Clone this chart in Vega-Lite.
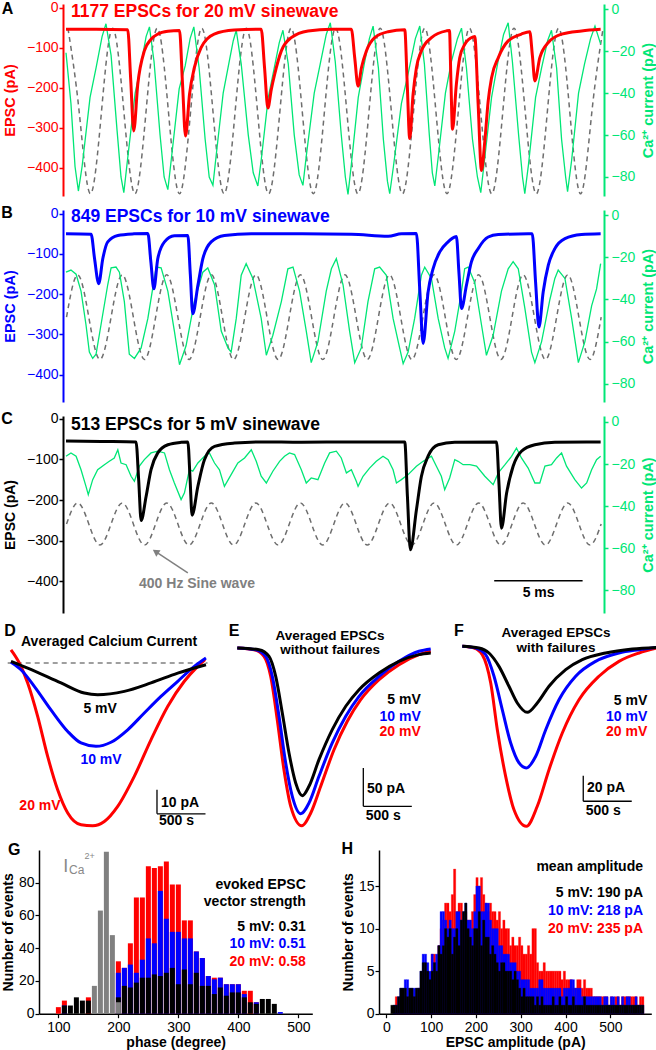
{
"$schema":"https://vega.github.io/schema/vega-lite/v6.json",
"padding":0,
"background":"white",
"spacing":8,
"config":{"view":{"stroke":null},"font":"Liberation Sans","axis":{"grid":false,"labelFlush":false,"labelOverlap":false,"labelFontSize":14,"titleFontSize":14,"titleFontWeight":"bold","labelColor":"#000000","tickColor":"#000000","domainColor":"#000000","titleColor":"#000000","tickSize":4,"tickWidth":1.2,"domainWidth":1.5}},
"datasets":{
"aS":[{"t":0.28,"v":-9},{"t":0.91,"v":-48.5},{"t":1.54,"v":-88},{"t":2.18,"v":-48.5},{"t":2.81,"v":-9},{"t":3.44,"v":-48.5},{"t":4.07,"v":-88},{"t":4.7,"v":-48.5},{"t":5.33,"v":-9},{"t":5.96,"v":-48.5},{"t":6.59,"v":-88},{"t":7.22,"v":-48.5},{"t":7.85,"v":-9},{"t":8.48,"v":-48.5},{"t":9.11,"v":-88},{"t":9.74,"v":-48.5},{"t":10.37,"v":-9},{"t":11.0,"v":-48.5},{"t":11.63,"v":-88},{"t":12.27,"v":-48.5},{"t":12.9,"v":-9},{"t":13.53,"v":-48.5},{"t":14.16,"v":-88},{"t":14.79,"v":-48.5},{"t":15.42,"v":-9},{"t":16.05,"v":-48.5},{"t":16.68,"v":-88},{"t":17.31,"v":-48.5},{"t":17.94,"v":-9},{"t":18.57,"v":-48.5},{"t":19.2,"v":-88},{"t":19.83,"v":-48.5},{"t":20.46,"v":-9},{"t":21.09,"v":-48.5},{"t":21.72,"v":-88},{"t":22.36,"v":-48.5},{"t":22.99,"v":-9},{"t":23.62,"v":-48.5},{"t":24.25,"v":-88},{"t":24.88,"v":-48.5},{"t":25.51,"v":-9},{"t":26.14,"v":-48.5},{"t":26.77,"v":-88},{"t":27.4,"v":-48.5},{"t":28.03,"v":-9},{"t":28.66,"v":-48.5},{"t":29.29,"v":-88},{"t":29.92,"v":-48.5},{"t":30.55,"v":-9}],
"aG":[{"t":0.17,"v":-20.7},{"t":0.45,"v":-45},{"t":0.68,"v":-75},{"t":0.87,"v":-86.7},{"t":1.08,"v":-75},{"t":1.53,"v":-42},{"t":1.87,"v":-28},{"t":2.21,"v":-13},{"t":2.43,"v":-6.9},{"t":2.72,"v":-22},{"t":3.06,"v":-58},{"t":3.28,"v":-80},{"t":3.44,"v":-87.5},{"t":3.62,"v":-74},{"t":4.08,"v":-40},{"t":4.42,"v":-26},{"t":4.7,"v":-13},{"t":4.89,"v":-8.4},{"t":5.15,"v":-25},{"t":5.49,"v":-60},{"t":5.72,"v":-80},{"t":5.93,"v":-86},{"t":6.12,"v":-72},{"t":6.57,"v":-38},{"t":6.91,"v":-27},{"t":7.19,"v":-14},{"t":7.4,"v":-8.4},{"t":7.7,"v":-28},{"t":8.04,"v":-62},{"t":8.27,"v":-80},{"t":8.48,"v":-84},{"t":8.66,"v":-70},{"t":9.06,"v":-40},{"t":9.4,"v":-25},{"t":9.63,"v":-15},{"t":9.8,"v":-10},{"t":10.08,"v":-26},{"t":10.48,"v":-60},{"t":10.76,"v":-78},{"t":11.02,"v":-84.3},{"t":11.21,"v":-72},{"t":11.61,"v":-42},{"t":11.95,"v":-28},{"t":12.23,"v":-16},{"t":12.44,"v":-10},{"t":12.74,"v":-26},{"t":13.08,"v":-60},{"t":13.36,"v":-79},{"t":13.57,"v":-84},{"t":13.76,"v":-70},{"t":14.21,"v":-40},{"t":14.55,"v":-26},{"t":14.89,"v":-12},{"t":15.12,"v":-6.4},{"t":15.4,"v":-25},{"t":15.74,"v":-60},{"t":15.97,"v":-80},{"t":16.12,"v":-88.3},{"t":16.31,"v":-74},{"t":16.7,"v":-42},{"t":17.04,"v":-26},{"t":17.33,"v":-14},{"t":17.54,"v":-8},{"t":17.84,"v":-28},{"t":18.12,"v":-62},{"t":18.35,"v":-82},{"t":18.48,"v":-88},{"t":18.69,"v":-75},{"t":19.14,"v":-45},{"t":19.54,"v":-30},{"t":19.93,"v":-14},{"t":20.18,"v":-8},{"t":20.44,"v":-26},{"t":20.72,"v":-60},{"t":20.89,"v":-78},{"t":21.03,"v":-84.3},{"t":21.23,"v":-70},{"t":21.63,"v":-40},{"t":21.97,"v":-25},{"t":22.31,"v":-14},{"t":22.54,"v":-9},{"t":22.82,"v":-28},{"t":23.16,"v":-62},{"t":23.44,"v":-80},{"t":23.63,"v":-87.5},{"t":23.84,"v":-72},{"t":24.24,"v":-42},{"t":24.58,"v":-26},{"t":24.92,"v":-12},{"t":25.18,"v":-6.4},{"t":25.42,"v":-25},{"t":25.77,"v":-60},{"t":25.99,"v":-80},{"t":26.12,"v":-88},{"t":26.33,"v":-74},{"t":26.73,"v":-42},{"t":27.07,"v":-28},{"t":27.41,"v":-15},{"t":27.63,"v":-10},{"t":27.92,"v":-28},{"t":28.2,"v":-62},{"t":28.43,"v":-80},{"t":28.54,"v":-87},{"t":28.77,"v":-72},{"t":29.16,"v":-40},{"t":29.5,"v":-26},{"t":29.84,"v":-14},{"t":30.09,"v":-8},{"t":30.41,"v":-16.6}],
"aE":[{"t":0.17,"v":-54},{"t":1.87,"v":-54},{"t":3.66,"v":-55},{"t":3.83,"v":-180},{"t":4.0,"v":-308},{"t":4.23,"v":-191},{"t":4.6,"v":-108},{"t":4.98,"v":-79},{"t":5.36,"v":-66},{"t":5.93,"v":-59},{"t":6.59,"v":-57},{"t":6.76,"v":-190},{"t":6.93,"v":-321},{"t":7.16,"v":-215},{"t":7.43,"v":-150},{"t":7.81,"v":-100},{"t":8.55,"v":-66},{"t":9.68,"v":-56},{"t":11.21,"v":-54},{"t":11.4,"v":-150},{"t":11.59,"v":-251},{"t":11.78,"v":-205},{"t":11.97,"v":-167},{"t":12.35,"v":-108},{"t":12.91,"v":-75},{"t":13.86,"v":-58},{"t":15.18,"v":-54},{"t":16.31,"v":-54},{"t":16.5,"v":-125},{"t":16.69,"v":-196},{"t":16.88,"v":-150},{"t":17.16,"v":-108},{"t":17.63,"v":-75},{"t":18.39,"v":-60},{"t":19.33,"v":-55},{"t":19.47,"v":-190},{"t":19.61,"v":-327},{"t":19.8,"v":-217},{"t":19.99,"v":-150},{"t":20.27,"v":-108},{"t":20.84,"v":-75},{"t":21.69,"v":-58},{"t":21.86,"v":-57},{"t":21.94,"v":-180},{"t":22.03,"v":-304},{"t":22.25,"v":-191},{"t":22.44,"v":-125},{"t":22.72,"v":-92},{"t":23.2,"v":-73},{"t":23.29,"v":-72},{"t":23.48,"v":-240},{"t":23.67,"v":-407},{"t":23.86,"v":-333},{"t":24.05,"v":-233},{"t":24.24,"v":-175},{"t":24.62,"v":-125},{"t":25.18,"v":-83},{"t":25.93,"v":-66},{"t":26.4,"v":-60},{"t":26.55,"v":-120},{"t":26.69,"v":-183},{"t":26.97,"v":-125},{"t":27.45,"v":-87},{"t":28.2,"v":-66},{"t":29.33,"v":-58},{"t":30.41,"v":-54}],
"bS":[{"t":0.2,"v":-48.4},{"t":0.83,"v":-28.3},{"t":1.46,"v":-48.4},{"t":2.09,"v":-68.5},{"t":2.72,"v":-48.4},{"t":3.35,"v":-28.3},{"t":3.98,"v":-48.4},{"t":4.61,"v":-68.5},{"t":5.24,"v":-48.4},{"t":5.87,"v":-28.3},{"t":6.5,"v":-48.4},{"t":7.13,"v":-68.5},{"t":7.76,"v":-48.4},{"t":8.39,"v":-28.3},{"t":9.02,"v":-48.4},{"t":9.65,"v":-68.5},{"t":10.28,"v":-48.4},{"t":10.91,"v":-28.3},{"t":11.54,"v":-48.4},{"t":12.17,"v":-68.5},{"t":12.8,"v":-48.4},{"t":13.43,"v":-28.3},{"t":14.06,"v":-48.4},{"t":14.69,"v":-68.5},{"t":15.32,"v":-48.4},{"t":15.95,"v":-28.3},{"t":16.58,"v":-48.4},{"t":17.21,"v":-68.5},{"t":17.84,"v":-48.4},{"t":18.47,"v":-28.3},{"t":19.1,"v":-48.4},{"t":19.73,"v":-68.5},{"t":20.36,"v":-48.4},{"t":20.99,"v":-28.3},{"t":21.62,"v":-48.4},{"t":22.25,"v":-68.5},{"t":22.88,"v":-48.4},{"t":23.51,"v":-28.3},{"t":24.14,"v":-48.4},{"t":24.77,"v":-68.5},{"t":25.4,"v":-48.4},{"t":26.03,"v":-28.3},{"t":26.66,"v":-48.4},{"t":27.29,"v":-68.5},{"t":27.92,"v":-48.4},{"t":28.55,"v":-28.3},{"t":29.18,"v":-48.4},{"t":29.81,"v":-68.5},{"t":30.44,"v":-48.4}],
"bG":[{"t":0.17,"v":-27},{"t":0.45,"v":-26},{"t":0.74,"v":-28},{"t":1.02,"v":-36},{"t":1.3,"v":-52},{"t":1.49,"v":-65},{"t":1.68,"v":-68},{"t":1.87,"v":-66},{"t":2.15,"v":-52},{"t":2.53,"v":-33},{"t":2.72,"v":-25},{"t":3.0,"v":-24.6},{"t":3.19,"v":-27},{"t":3.47,"v":-41},{"t":3.75,"v":-66},{"t":4.04,"v":-68},{"t":4.42,"v":-63},{"t":4.8,"v":-49},{"t":5.27,"v":-24.6},{"t":5.55,"v":-25},{"t":5.93,"v":-36},{"t":6.3,"v":-55},{"t":6.59,"v":-71},{"t":6.96,"v":-62},{"t":7.43,"v":-41},{"t":7.91,"v":-27},{"t":8.19,"v":-25},{"t":8.57,"v":-33},{"t":8.95,"v":-55},{"t":9.33,"v":-63},{"t":9.51,"v":-65},{"t":9.8,"v":-49},{"t":10.08,"v":-28.5},{"t":10.36,"v":-23},{"t":10.74,"v":-30},{"t":11.21,"v":-49},{"t":11.5,"v":-66.5},{"t":11.87,"v":-57},{"t":12.35,"v":-41},{"t":12.72,"v":-25.4},{"t":13.01,"v":-24.6},{"t":13.38,"v":-36},{"t":13.76,"v":-55},{"t":14.04,"v":-70},{"t":14.42,"v":-60},{"t":14.89,"v":-36},{"t":15.18,"v":-25.4},{"t":15.46,"v":-20.6},{"t":15.84,"v":-33},{"t":16.21,"v":-55},{"t":16.5,"v":-70},{"t":16.87,"v":-63},{"t":17.25,"v":-41},{"t":17.63,"v":-25.4},{"t":17.91,"v":-24.6},{"t":18.29,"v":-28.5},{"t":18.67,"v":-49},{"t":19.04,"v":-63},{"t":19.24,"v":-70.5},{"t":19.52,"v":-65},{"t":19.89,"v":-49},{"t":20.27,"v":-28.5},{"t":20.46,"v":-24.6},{"t":20.84,"v":-30},{"t":21.22,"v":-49},{"t":21.59,"v":-63},{"t":21.78,"v":-68},{"t":22.16,"v":-55},{"t":22.54,"v":-36},{"t":22.72,"v":-25.4},{"t":22.92,"v":-24.6},{"t":23.29,"v":-32},{"t":23.67,"v":-52},{"t":23.95,"v":-66.5},{"t":24.33,"v":-57},{"t":24.8,"v":-36},{"t":25.18,"v":-25.4},{"t":25.46,"v":-22},{"t":25.75,"v":-25.4},{"t":26.12,"v":-44},{"t":26.5,"v":-65},{"t":26.69,"v":-70},{"t":27.07,"v":-60},{"t":27.54,"v":-40},{"t":27.82,"v":-30},{"t":28.01,"v":-26},{"t":28.39,"v":-30},{"t":28.77,"v":-49},{"t":29.15,"v":-70},{"t":29.52,"v":-60},{"t":29.9,"v":-43},{"t":30.18,"v":-35},{"t":30.41,"v":-23}],
"bE":[{"t":0.17,"v":-50},{"t":1.59,"v":-51},{"t":1.78,"v":-110},{"t":2.02,"v":-174},{"t":2.25,"v":-112},{"t":2.53,"v":-70},{"t":3.1,"v":-54},{"t":4.02,"v":-50},{"t":4.8,"v":-49},{"t":4.97,"v":-120},{"t":5.14,"v":-187},{"t":5.36,"v":-112},{"t":5.74,"v":-70},{"t":6.3,"v":-55},{"t":7.06,"v":-54},{"t":7.2,"v":-150},{"t":7.34,"v":-249},{"t":7.63,"v":-178},{"t":7.91,"v":-112},{"t":8.38,"v":-70},{"t":9.13,"v":-54},{"t":10.65,"v":-50},{"t":13.48,"v":-50},{"t":16.31,"v":-51},{"t":18.39,"v":-56},{"t":19.14,"v":-50},{"t":19.99,"v":-49},{"t":20.18,"v":-190},{"t":20.37,"v":-323},{"t":20.65,"v":-195},{"t":20.93,"v":-137},{"t":21.31,"v":-95},{"t":21.78,"v":-70},{"t":22.16,"v":-58},{"t":22.25,"v":-57},{"t":22.4,"v":-150},{"t":22.54,"v":-236},{"t":22.82,"v":-178},{"t":23.1,"v":-120},{"t":23.48,"v":-87},{"t":24.05,"v":-58},{"t":24.62,"v":-52},{"t":26.31,"v":-50},{"t":26.54,"v":-50},{"t":26.73,"v":-170},{"t":26.92,"v":-282},{"t":27.16,"v":-195},{"t":27.45,"v":-128},{"t":27.82,"v":-87},{"t":28.39,"v":-62},{"t":29.33,"v":-52},{"t":30.41,"v":-50}],
"cS":[{"t":0.2,"v":-48.5},{"t":0.83,"v":-38.5},{"t":1.46,"v":-48.5},{"t":2.09,"v":-58.5},{"t":2.72,"v":-48.5},{"t":3.35,"v":-38.5},{"t":3.98,"v":-48.5},{"t":4.61,"v":-58.5},{"t":5.24,"v":-48.5},{"t":5.87,"v":-38.5},{"t":6.5,"v":-48.5},{"t":7.13,"v":-58.5},{"t":7.76,"v":-48.5},{"t":8.39,"v":-38.5},{"t":9.02,"v":-48.5},{"t":9.65,"v":-58.5},{"t":10.28,"v":-48.5},{"t":10.91,"v":-38.5},{"t":11.54,"v":-48.5},{"t":12.17,"v":-58.5},{"t":12.8,"v":-48.5},{"t":13.43,"v":-38.5},{"t":14.06,"v":-48.5},{"t":14.69,"v":-58.5},{"t":15.32,"v":-48.5},{"t":15.95,"v":-38.5},{"t":16.58,"v":-48.5},{"t":17.21,"v":-58.5},{"t":17.84,"v":-48.5},{"t":18.47,"v":-38.5},{"t":19.1,"v":-48.5},{"t":19.73,"v":-58.5},{"t":20.36,"v":-48.5},{"t":20.99,"v":-38.5},{"t":21.62,"v":-48.5},{"t":22.25,"v":-58.5},{"t":22.88,"v":-48.5},{"t":23.51,"v":-38.5},{"t":24.14,"v":-48.5},{"t":24.77,"v":-58.5},{"t":25.4,"v":-48.5},{"t":26.03,"v":-38.5},{"t":26.66,"v":-48.5},{"t":27.29,"v":-58.5},{"t":27.92,"v":-48.5},{"t":28.55,"v":-38.5},{"t":29.18,"v":-48.5},{"t":29.81,"v":-58.5},{"t":30.44,"v":-48.5}],
"cG":[{"t":0.17,"v":-16.3},{"t":0.45,"v":-14.7},{"t":0.74,"v":-16.3},{"t":1.02,"v":-22.7},{"t":1.3,"v":-30.6},{"t":1.43,"v":-34.5},{"t":1.68,"v":-27.4},{"t":1.96,"v":-22.7},{"t":2.34,"v":-20.3},{"t":2.62,"v":-18.7},{"t":2.9,"v":-17.1},{"t":3.1,"v":-13.2},{"t":3.28,"v":-19.5},{"t":3.57,"v":-20.3},{"t":3.85,"v":-25.8},{"t":4.04,"v":-28.2},{"t":4.32,"v":-21},{"t":4.6,"v":-17.9},{"t":4.98,"v":-14.7},{"t":5.36,"v":-13.9},{"t":5.74,"v":-14.7},{"t":6.02,"v":-22.7},{"t":6.3,"v":-29},{"t":6.68,"v":-36.9},{"t":6.87,"v":-33.7},{"t":7.15,"v":-22.7},{"t":7.34,"v":-23.4},{"t":7.63,"v":-19.5},{"t":8.0,"v":-16.3},{"t":8.28,"v":-14.7},{"t":8.57,"v":-19.5},{"t":8.85,"v":-22.7},{"t":9.13,"v":-30.6},{"t":9.51,"v":-25},{"t":9.89,"v":-19.5},{"t":10.27,"v":-17.1},{"t":10.65,"v":-13.2},{"t":10.93,"v":-18.7},{"t":11.21,"v":-25.8},{"t":11.5,"v":-29},{"t":11.87,"v":-23.4},{"t":12.25,"v":-18.7},{"t":12.53,"v":-16.3},{"t":12.81,"v":-14.7},{"t":13.1,"v":-15.5},{"t":13.48,"v":-22.7},{"t":13.76,"v":-29},{"t":14.04,"v":-26.6},{"t":14.42,"v":-27.4},{"t":14.8,"v":-19.5},{"t":15.08,"v":-14.7},{"t":15.46,"v":-13.9},{"t":15.74,"v":-17.1},{"t":16.03,"v":-24.2},{"t":16.31,"v":-22.7},{"t":16.59,"v":-28.2},{"t":16.69,"v":-30.6},{"t":16.97,"v":-25.8},{"t":17.34,"v":-21.9},{"t":17.72,"v":-18.7},{"t":18.1,"v":-16.3},{"t":18.39,"v":-17.9},{"t":18.67,"v":-22.7},{"t":18.86,"v":-29},{"t":19.14,"v":-27.4},{"t":19.52,"v":-25},{"t":19.99,"v":-21},{"t":20.37,"v":-18.7},{"t":20.84,"v":-16.3},{"t":21.12,"v":-21},{"t":21.4,"v":-25.8},{"t":21.59,"v":-32.2},{"t":21.87,"v":-26.6},{"t":22.16,"v":-17.9},{"t":22.35,"v":-18.7},{"t":22.63,"v":-20.3},{"t":23.01,"v":-20.3},{"t":23.39,"v":-21},{"t":23.86,"v":-25.8},{"t":24.33,"v":-29.8},{"t":24.62,"v":-24.2},{"t":25.0,"v":-20.3},{"t":25.37,"v":-16.3},{"t":25.65,"v":-12.4},{"t":25.93,"v":-17.1},{"t":26.31,"v":-21.9},{"t":26.69,"v":-29},{"t":26.97,"v":-29},{"t":27.26,"v":-21},{"t":27.63,"v":-20.3},{"t":27.92,"v":-17.1},{"t":28.2,"v":-14.7},{"t":28.48,"v":-21},{"t":28.95,"v":-27.4},{"t":29.33,"v":-31.4},{"t":29.62,"v":-29},{"t":29.9,"v":-22.7},{"t":30.18,"v":-17.9},{"t":30.41,"v":-16.3}],
"cE":[{"t":0.17,"v":-55},{"t":2.15,"v":-56},{"t":4.13,"v":-57},{"t":4.28,"v":-150},{"t":4.42,"v":-250},{"t":4.7,"v":-191},{"t":4.98,"v":-125},{"t":5.36,"v":-84},{"t":5.93,"v":-64},{"t":6.68,"v":-58},{"t":7.06,"v":-57},{"t":7.19,"v":-150},{"t":7.3,"v":-237},{"t":7.63,"v":-166},{"t":8.0,"v":-101},{"t":8.57,"v":-68},{"t":9.7,"v":-60},{"t":11.21,"v":-57},{"t":13.48,"v":-58},{"t":16.31,"v":-57},{"t":19.33,"v":-57},{"t":19.48,"v":-190},{"t":19.65,"v":-322},{"t":19.99,"v":-224},{"t":20.27,"v":-142},{"t":20.65,"v":-92},{"t":21.22,"v":-64},{"t":22.16,"v":-58},{"t":24.52,"v":-57},{"t":24.66,"v":-160},{"t":24.8,"v":-269},{"t":25.09,"v":-183},{"t":25.46,"v":-117},{"t":25.93,"v":-80},{"t":26.69,"v":-64},{"t":27.82,"v":-58},{"t":30.41,"v":-57}],
"dK":[{"t":0.034,"v":0.7},{"t":0.206,"v":-2.1},{"t":0.55,"v":-8.3},{"t":0.79,"v":-12.5},{"t":0.928,"v":-13.2},{"t":1.202,"v":-11.8},{"t":1.477,"v":-8.3},{"t":1.753,"v":-4.2},{"t":2.044,"v":-0.7}],
"dB":[{"t":0.034,"v":0.3},{"t":0.137,"v":-2.8},{"t":0.274,"v":-9.7},{"t":0.446,"v":-19.5},{"t":0.619,"v":-28.5},{"t":0.756,"v":-33.3},{"t":0.91,"v":-34.7},{"t":1.065,"v":-33},{"t":1.237,"v":-27.8},{"t":1.408,"v":-20.8},{"t":1.58,"v":-13.9},{"t":1.753,"v":-7.6},{"t":1.924,"v":-1.4},{"t":2.044,"v":2.1}],
"dR":[{"t":0.034,"v":5.5},{"t":0.12,"v":0},{"t":0.206,"v":-8.3},{"t":0.309,"v":-22.2},{"t":0.412,"v":-38.9},{"t":0.515,"v":-52.8},{"t":0.619,"v":-62.5},{"t":0.756,"v":-67.4},{"t":0.876,"v":-67.8},{"t":0.996,"v":-66},{"t":1.134,"v":-59.7},{"t":1.305,"v":-47.2},{"t":1.477,"v":-32},{"t":1.649,"v":-18.1},{"t":1.821,"v":-7.6},{"t":1.959,"v":-1.4},{"t":2.034,"v":1.4}],
"eK":[{"t":0,"v":0},{"t":0.224,"v":-2.2},{"t":0.327,"v":-10.9},{"t":0.396,"v":-37},{"t":0.464,"v":-84.9},{"t":0.533,"v":-137.1},{"t":0.602,"v":-176.2},{"t":0.67,"v":-192.8},{"t":0.739,"v":-180.5},{"t":0.842,"v":-145.8},{"t":0.979,"v":-106.6},{"t":1.118,"v":-76.1},{"t":1.255,"v":-54.4},{"t":1.461,"v":-32.6},{"t":1.667,"v":-17.4},{"t":1.873,"v":-8.7},{"t":1.994,"v":-6.5}],
"eB":[{"t":0,"v":0},{"t":0.19,"v":-2.2},{"t":0.293,"v":-10.9},{"t":0.361,"v":-37},{"t":0.43,"v":-89.2},{"t":0.499,"v":-150.1},{"t":0.567,"v":-193.6},{"t":0.654,"v":-216.3},{"t":0.739,"v":-202.3},{"t":0.842,"v":-167.5},{"t":0.979,"v":-124},{"t":1.118,"v":-89.2},{"t":1.255,"v":-63.1},{"t":1.461,"v":-37},{"t":1.667,"v":-17.4},{"t":1.873,"v":-4.3},{"t":1.994,"v":-1.3}],
"eR":[{"t":0,"v":0},{"t":0.172,"v":-2.2},{"t":0.275,"v":-10.9},{"t":0.344,"v":-37},{"t":0.412,"v":-93.6},{"t":0.481,"v":-158.9},{"t":0.551,"v":-206.7},{"t":0.664,"v":-232},{"t":0.757,"v":-215.4},{"t":0.86,"v":-180.5},{"t":0.997,"v":-132.8},{"t":1.134,"v":-95.7},{"t":1.272,"v":-67.5},{"t":1.461,"v":-41.4},{"t":1.667,"v":-21.8},{"t":1.873,"v":-8.7},{"t":1.994,"v":-4.3}],
"fK":[{"t":0,"v":0},{"t":0.172,"v":-1.3},{"t":0.275,"v":-5.2},{"t":0.378,"v":-15.6},{"t":0.481,"v":-31.1},{"t":0.567,"v":-44.1},{"t":0.67,"v":-51.4},{"t":0.773,"v":-44.1},{"t":0.894,"v":-31.1},{"t":1.066,"v":-18.2},{"t":1.237,"v":-10.4},{"t":1.478,"v":-5.2},{"t":1.753,"v":-2.1},{"t":2.01,"v":-0.8}],
"fB":[{"t":0,"v":0},{"t":0.138,"v":-1.3},{"t":0.241,"v":-6.5},{"t":0.327,"v":-23.3},{"t":0.412,"v":-49.3},{"t":0.499,"v":-75.3},{"t":0.585,"v":-90.8},{"t":0.66,"v":-94.7},{"t":0.757,"v":-85.6},{"t":0.86,"v":-64.9},{"t":0.997,"v":-41.6},{"t":1.169,"v":-23.3},{"t":1.375,"v":-11.7},{"t":1.615,"v":-5.2},{"t":1.822,"v":-2.6},{"t":2.01,"v":-0.8}],
"fR":[{"t":0,"v":0},{"t":0.121,"v":-1.3},{"t":0.206,"v":-6.5},{"t":0.293,"v":-28.6},{"t":0.361,"v":-64.9},{"t":0.447,"v":-101.2},{"t":0.533,"v":-127.2},{"t":0.66,"v":-140.1},{"t":0.773,"v":-124.5},{"t":0.894,"v":-96},{"t":1.031,"v":-67.5},{"t":1.203,"v":-41.6},{"t":1.409,"v":-23.3},{"t":1.615,"v":-11.7},{"t":1.822,"v":-5.2},{"t":2.01,"v":-1.3}],
"gR":[{"deg":100,"n":4},{"deg":110,"n":8},{"deg":150,"n":10},{"deg":200,"n":32},{"deg":210,"n":28},{"deg":220,"n":43},{"deg":230,"n":71},{"deg":240,"n":71},{"deg":250,"n":90},{"deg":260,"n":89},{"deg":270,"n":90},{"deg":280,"n":93},{"deg":290,"n":79},{"deg":300,"n":79},{"deg":310,"n":57},{"deg":320,"n":57},{"deg":330,"n":38},{"deg":340,"n":34},{"deg":350,"n":23},{"deg":360,"n":22},{"deg":370,"n":22},{"deg":380,"n":18},{"deg":390,"n":18},{"deg":400,"n":18},{"deg":410,"n":14},{"deg":420,"n":14},{"deg":430,"n":7}],
"gB":[{"deg":110,"n":5},{"deg":200,"n":25},{"deg":210,"n":28},{"deg":220,"n":30},{"deg":230,"n":25},{"deg":240,"n":33},{"deg":250,"n":46},{"deg":260,"n":43},{"deg":270,"n":75},{"deg":280,"n":58},{"deg":290,"n":50},{"deg":300,"n":50},{"deg":310,"n":46},{"deg":320,"n":46},{"deg":330,"n":38},{"deg":340,"n":34},{"deg":350,"n":23},{"deg":360,"n":21},{"deg":370,"n":22},{"deg":380,"n":18},{"deg":390,"n":18},{"deg":400,"n":18},{"deg":410,"n":12},{"deg":430,"n":7},{"deg":470,"n":1}],
"gK":[{"deg":110,"n":5},{"deg":120,"n":5},{"deg":130,"n":10},{"deg":140,"n":8},{"deg":150,"n":8},{"deg":200,"n":10},{"deg":210,"n":17},{"deg":220,"n":16},{"deg":230,"n":19},{"deg":240,"n":22},{"deg":250,"n":22},{"deg":260,"n":24},{"deg":270,"n":23},{"deg":280,"n":25},{"deg":290,"n":28},{"deg":300,"n":18},{"deg":310,"n":27},{"deg":320,"n":18},{"deg":330,"n":25},{"deg":340,"n":17},{"deg":350,"n":17},{"deg":360,"n":12},{"deg":370,"n":16},{"deg":380,"n":11},{"deg":390,"n":13},{"deg":400,"n":13},{"deg":410,"n":10},{"deg":420,"n":7},{"deg":430,"n":6},{"deg":440,"n":9},{"deg":450,"n":9},{"deg":460,"n":6}],
"gG":[{"deg":160,"n":17},{"deg":170,"n":63},{"deg":180,"n":99},{"deg":190,"n":48},{"deg":200,"n":7}],
"hK":[{"lo":10,"hi":15,"n":1},{"lo":15,"hi":20,"n":1},{"lo":20,"hi":25,"n":1},{"lo":25,"hi":30,"n":2},{"lo":30,"hi":35,"n":3},{"lo":35,"hi":40,"n":3},{"lo":40,"hi":45,"n":3},{"lo":45,"hi":50,"n":2},{"lo":50,"hi":55,"n":3},{"lo":55,"hi":60,"n":3},{"lo":60,"hi":65,"n":2},{"lo":65,"hi":70,"n":3},{"lo":70,"hi":75,"n":3},{"lo":75,"hi":80,"n":5},{"lo":80,"hi":85,"n":6},{"lo":85,"hi":90,"n":6},{"lo":90,"hi":95,"n":5},{"lo":95,"hi":100,"n":4},{"lo":100,"hi":105,"n":5},{"lo":105,"hi":110,"n":6},{"lo":110,"hi":115,"n":5},{"lo":115,"hi":120,"n":8},{"lo":120,"hi":125,"n":7},{"lo":125,"hi":130,"n":8},{"lo":130,"hi":135,"n":10},{"lo":135,"hi":140,"n":9},{"lo":140,"hi":145,"n":10},{"lo":145,"hi":150,"n":7},{"lo":150,"hi":155,"n":9},{"lo":155,"hi":160,"n":10},{"lo":160,"hi":165,"n":8},{"lo":165,"hi":170,"n":11},{"lo":170,"hi":175,"n":12},{"lo":175,"hi":180,"n":13},{"lo":180,"hi":185,"n":10},{"lo":185,"hi":190,"n":9},{"lo":190,"hi":195,"n":8},{"lo":195,"hi":200,"n":10},{"lo":200,"hi":205,"n":10},{"lo":205,"hi":210,"n":12},{"lo":210,"hi":215,"n":8},{"lo":215,"hi":220,"n":11},{"lo":220,"hi":225,"n":9},{"lo":225,"hi":230,"n":9},{"lo":230,"hi":235,"n":7},{"lo":235,"hi":240,"n":8},{"lo":240,"hi":245,"n":7},{"lo":245,"hi":250,"n":6},{"lo":250,"hi":255,"n":5},{"lo":255,"hi":260,"n":6},{"lo":260,"hi":265,"n":6},{"lo":265,"hi":270,"n":5},{"lo":270,"hi":275,"n":5},{"lo":275,"hi":280,"n":5},{"lo":280,"hi":285,"n":4},{"lo":285,"hi":290,"n":5},{"lo":290,"hi":295,"n":4},{"lo":295,"hi":300,"n":3},{"lo":300,"hi":305,"n":2},{"lo":305,"hi":310,"n":3},{"lo":310,"hi":315,"n":2},{"lo":315,"hi":320,"n":2},{"lo":320,"hi":325,"n":2},{"lo":325,"hi":330,"n":2},{"lo":330,"hi":335,"n":1},{"lo":335,"hi":340,"n":2},{"lo":340,"hi":345,"n":1},{"lo":345,"hi":350,"n":2},{"lo":350,"hi":355,"n":1},{"lo":355,"hi":360,"n":1},{"lo":360,"hi":365,"n":1},{"lo":365,"hi":370,"n":1},{"lo":370,"hi":375,"n":2},{"lo":375,"hi":380,"n":1},{"lo":380,"hi":385,"n":1},{"lo":385,"hi":390,"n":2},{"lo":390,"hi":395,"n":1},{"lo":395,"hi":400,"n":1},{"lo":400,"hi":405,"n":2},{"lo":405,"hi":410,"n":1},{"lo":410,"hi":415,"n":1},{"lo":415,"hi":420,"n":2},{"lo":420,"hi":425,"n":1},{"lo":425,"hi":430,"n":1},{"lo":430,"hi":435,"n":1},{"lo":435,"hi":440,"n":1},{"lo":440,"hi":445,"n":2},{"lo":445,"hi":450,"n":1},{"lo":450,"hi":455,"n":1},{"lo":455,"hi":460,"n":1},{"lo":460,"hi":465,"n":1},{"lo":465,"hi":470,"n":1},{"lo":470,"hi":475,"n":1},{"lo":475,"hi":480,"n":1},{"lo":480,"hi":485,"n":1},{"lo":485,"hi":490,"n":1},{"lo":490,"hi":495,"n":1},{"lo":495,"hi":500,"n":1},{"lo":500,"hi":505,"n":1},{"lo":505,"hi":510,"n":1},{"lo":510,"hi":515,"n":1},{"lo":515,"hi":520,"n":1},{"lo":520,"hi":525,"n":1},{"lo":525,"hi":530,"n":1},{"lo":530,"hi":535,"n":1},{"lo":535,"hi":540,"n":1},{"lo":540,"hi":545,"n":1},{"lo":545,"hi":550,"n":1},{"lo":550,"hi":555,"n":1},{"lo":555,"hi":560,"n":1},{"lo":560,"hi":565,"n":1},{"lo":565,"hi":570,"n":1},{"lo":570,"hi":575,"n":1}],
"hB":[{"lo":15,"hi":20,"n":1},{"lo":20,"hi":25,"n":1},{"lo":25,"hi":30,"n":2},{"lo":30,"hi":35,"n":3},{"lo":35,"hi":40,"n":3},{"lo":40,"hi":45,"n":4},{"lo":45,"hi":50,"n":4},{"lo":50,"hi":55,"n":3},{"lo":55,"hi":60,"n":3},{"lo":60,"hi":65,"n":3},{"lo":65,"hi":70,"n":3},{"lo":70,"hi":75,"n":3},{"lo":75,"hi":80,"n":5},{"lo":80,"hi":85,"n":7},{"lo":85,"hi":90,"n":7},{"lo":90,"hi":95,"n":6},{"lo":95,"hi":100,"n":5},{"lo":100,"hi":105,"n":7},{"lo":105,"hi":110,"n":6},{"lo":110,"hi":115,"n":7},{"lo":115,"hi":120,"n":8},{"lo":120,"hi":125,"n":12},{"lo":125,"hi":130,"n":12},{"lo":130,"hi":135,"n":11},{"lo":135,"hi":140,"n":10},{"lo":140,"hi":145,"n":11},{"lo":145,"hi":150,"n":10},{"lo":150,"hi":155,"n":10},{"lo":155,"hi":160,"n":12},{"lo":160,"hi":165,"n":12},{"lo":165,"hi":170,"n":11},{"lo":170,"hi":175,"n":12},{"lo":175,"hi":180,"n":13},{"lo":180,"hi":185,"n":11},{"lo":185,"hi":190,"n":11},{"lo":190,"hi":195,"n":10},{"lo":195,"hi":200,"n":12},{"lo":200,"hi":205,"n":15},{"lo":205,"hi":210,"n":15},{"lo":210,"hi":215,"n":12},{"lo":215,"hi":220,"n":12},{"lo":220,"hi":225,"n":13},{"lo":225,"hi":230,"n":13},{"lo":230,"hi":235,"n":11},{"lo":235,"hi":240,"n":10},{"lo":240,"hi":245,"n":10},{"lo":245,"hi":250,"n":10},{"lo":250,"hi":255,"n":8},{"lo":255,"hi":260,"n":8},{"lo":260,"hi":265,"n":7},{"lo":265,"hi":270,"n":7},{"lo":270,"hi":275,"n":7},{"lo":275,"hi":280,"n":6},{"lo":280,"hi":285,"n":6},{"lo":285,"hi":290,"n":6},{"lo":290,"hi":295,"n":5},{"lo":295,"hi":300,"n":5},{"lo":300,"hi":305,"n":4},{"lo":305,"hi":310,"n":4},{"lo":310,"hi":315,"n":4},{"lo":315,"hi":320,"n":4},{"lo":320,"hi":325,"n":3},{"lo":325,"hi":330,"n":3},{"lo":330,"hi":335,"n":3},{"lo":335,"hi":340,"n":3},{"lo":340,"hi":345,"n":4},{"lo":345,"hi":350,"n":4},{"lo":350,"hi":355,"n":3},{"lo":355,"hi":360,"n":3},{"lo":360,"hi":365,"n":3},{"lo":365,"hi":370,"n":3},{"lo":370,"hi":375,"n":3},{"lo":375,"hi":380,"n":3},{"lo":380,"hi":385,"n":3},{"lo":385,"hi":390,"n":3},{"lo":390,"hi":395,"n":2},{"lo":395,"hi":400,"n":3},{"lo":400,"hi":405,"n":3},{"lo":405,"hi":410,"n":3},{"lo":410,"hi":415,"n":4},{"lo":415,"hi":420,"n":4},{"lo":420,"hi":425,"n":3},{"lo":425,"hi":430,"n":3},{"lo":430,"hi":435,"n":3},{"lo":435,"hi":440,"n":2},{"lo":440,"hi":445,"n":2},{"lo":445,"hi":450,"n":2},{"lo":450,"hi":455,"n":2},{"lo":455,"hi":460,"n":2},{"lo":460,"hi":465,"n":2},{"lo":465,"hi":470,"n":2},{"lo":470,"hi":475,"n":2},{"lo":475,"hi":480,"n":2},{"lo":480,"hi":485,"n":1},{"lo":485,"hi":490,"n":2},{"lo":490,"hi":495,"n":2},{"lo":495,"hi":500,"n":1},{"lo":500,"hi":505,"n":2},{"lo":505,"hi":510,"n":2},{"lo":510,"hi":515,"n":1},{"lo":515,"hi":520,"n":2},{"lo":520,"hi":525,"n":1},{"lo":525,"hi":530,"n":2},{"lo":530,"hi":535,"n":1},{"lo":535,"hi":540,"n":2},{"lo":540,"hi":545,"n":2},{"lo":545,"hi":550,"n":1},{"lo":550,"hi":555,"n":1},{"lo":555,"hi":560,"n":2},{"lo":560,"hi":565,"n":1},{"lo":565,"hi":570,"n":1},{"lo":570,"hi":575,"n":1}],
"hR":[{"lo":20,"hi":25,"n":2},{"lo":25,"hi":30,"n":1},{"lo":30,"hi":35,"n":2},{"lo":35,"hi":40,"n":2},{"lo":40,"hi":45,"n":2},{"lo":45,"hi":50,"n":2},{"lo":50,"hi":55,"n":2},{"lo":55,"hi":60,"n":1},{"lo":60,"hi":65,"n":2},{"lo":65,"hi":70,"n":2},{"lo":70,"hi":75,"n":3},{"lo":75,"hi":80,"n":3},{"lo":80,"hi":85,"n":5},{"lo":85,"hi":90,"n":5},{"lo":90,"hi":95,"n":5},{"lo":95,"hi":100,"n":4},{"lo":100,"hi":105,"n":7},{"lo":105,"hi":110,"n":7},{"lo":110,"hi":115,"n":6},{"lo":115,"hi":120,"n":8},{"lo":120,"hi":125,"n":10},{"lo":125,"hi":130,"n":11},{"lo":130,"hi":135,"n":13},{"lo":135,"hi":140,"n":13},{"lo":140,"hi":145,"n":12},{"lo":145,"hi":150,"n":14},{"lo":150,"hi":155,"n":17},{"lo":155,"hi":160,"n":12},{"lo":160,"hi":165,"n":13},{"lo":165,"hi":170,"n":13},{"lo":170,"hi":175,"n":11},{"lo":175,"hi":180,"n":12},{"lo":180,"hi":185,"n":11},{"lo":185,"hi":190,"n":11},{"lo":190,"hi":195,"n":12},{"lo":195,"hi":200,"n":14},{"lo":200,"hi":205,"n":16},{"lo":205,"hi":210,"n":15},{"lo":210,"hi":215,"n":16},{"lo":215,"hi":220,"n":14},{"lo":220,"hi":225,"n":13},{"lo":225,"hi":230,"n":12},{"lo":230,"hi":235,"n":13},{"lo":235,"hi":240,"n":12},{"lo":240,"hi":245,"n":12},{"lo":245,"hi":250,"n":11},{"lo":250,"hi":255,"n":12},{"lo":255,"hi":260,"n":10},{"lo":260,"hi":265,"n":11},{"lo":265,"hi":270,"n":10},{"lo":270,"hi":275,"n":10},{"lo":275,"hi":280,"n":8},{"lo":280,"hi":285,"n":9},{"lo":285,"hi":290,"n":8},{"lo":290,"hi":295,"n":8},{"lo":295,"hi":300,"n":9},{"lo":300,"hi":305,"n":8},{"lo":305,"hi":310,"n":7},{"lo":310,"hi":315,"n":7},{"lo":315,"hi":320,"n":8},{"lo":320,"hi":325,"n":7},{"lo":325,"hi":330,"n":10},{"lo":330,"hi":335,"n":10},{"lo":335,"hi":340,"n":6},{"lo":340,"hi":345,"n":5},{"lo":345,"hi":350,"n":5},{"lo":350,"hi":355,"n":6},{"lo":355,"hi":360,"n":5},{"lo":360,"hi":365,"n":5},{"lo":365,"hi":370,"n":5},{"lo":370,"hi":375,"n":5},{"lo":375,"hi":380,"n":5},{"lo":380,"hi":385,"n":5},{"lo":385,"hi":390,"n":5},{"lo":390,"hi":395,"n":4},{"lo":395,"hi":400,"n":5},{"lo":400,"hi":405,"n":4},{"lo":405,"hi":410,"n":4},{"lo":410,"hi":415,"n":4},{"lo":415,"hi":420,"n":3},{"lo":420,"hi":425,"n":3},{"lo":425,"hi":430,"n":4},{"lo":430,"hi":435,"n":4},{"lo":435,"hi":440,"n":3},{"lo":440,"hi":445,"n":4},{"lo":445,"hi":450,"n":3},{"lo":450,"hi":455,"n":3},{"lo":455,"hi":460,"n":3},{"lo":460,"hi":465,"n":2},{"lo":465,"hi":470,"n":2},{"lo":470,"hi":475,"n":2},{"lo":475,"hi":480,"n":2},{"lo":480,"hi":485,"n":2},{"lo":485,"hi":490,"n":2},{"lo":490,"hi":495,"n":2},{"lo":495,"hi":500,"n":1},{"lo":500,"hi":505,"n":2},{"lo":505,"hi":510,"n":1},{"lo":510,"hi":515,"n":2},{"lo":515,"hi":520,"n":2},{"lo":520,"hi":525,"n":1},{"lo":525,"hi":530,"n":2},{"lo":530,"hi":535,"n":2},{"lo":535,"hi":540,"n":2},{"lo":540,"hi":545,"n":2},{"lo":545,"hi":550,"n":2},{"lo":550,"hi":555,"n":2},{"lo":555,"hi":560,"n":2},{"lo":560,"hi":565,"n":1},{"lo":565,"hi":570,"n":2},{"lo":570,"hi":575,"n":2}]
},
"vconcat":[
{"spacing":0,"hconcat":[
 {"width":1,"height":1,"data":{"values":[]},"mark":"point"},
 {"width":541,"height":192,"resolve":{"scale":{"y":"independent"}},"layer":[
  {"data":{"name":"aS"},"mark":{"type":"line","interpolate":"natural","color":"#6e6e6e","strokeWidth":1.5,"strokeDash":[5,4]},"encoding":{"x":{"field":"t","type":"quantitative","scale":{"domain":[0,30.6],"nice":false,"zero":false},"axis":null},"y":{"field":"v","type":"quantitative","scale":{"domain":[-89.07,2.53],"nice":false,"zero":false},"axis":null}}},
  {"data":{"name":"aG"},"mark":{"type":"line","color":"#00e676","strokeWidth":1.3},"encoding":{"x":{"field":"t","type":"quantitative","scale":{"domain":[0,30.6],"nice":false,"zero":false},"axis":null},"y":{"field":"v","type":"quantitative","scale":{"domain":[-89.07,2.53],"nice":false,"zero":false},"axis":{"orient":"right","values":[0,-20,-40,-60,-80],"title":"Ca²⁺ current (pA)","titleAngle":270,"titleBaseline":"top","titleColor":"#00e676","titleFontSize":14.5,"titlePadding":7,"labelColor":"#00e676","labelPadding":3,"tickColor":"#00e676","tickWidth":1.5,"domainColor":"#00e676","domainWidth":2}}}},
  {"data":{"name":"aE"},"mark":{"type":"line","interpolate":"monotone","color":"#ff0000","strokeWidth":3},"encoding":{"x":{"field":"t","type":"quantitative","scale":{"domain":[0,30.6],"nice":false,"zero":false},"axis":null},"y":{"field":"v","type":"quantitative","scale":{"domain":[-470.75,9.25],"nice":false,"zero":false},"axis":{"orient":"left","values":[0,-100,-200,-300,-400],"title":"EPSC (pA)","titleColor":"#ff0000","titleFontSize":14.5,"titlePadding":9,"labelColor":"#ff0000","labelPadding":1,"tickColor":"#ff0000","tickWidth":1.5,"domainColor":"#ff0000","domainWidth":2}}}},
  {"data":{"values":[{}]},"mark":{"type":"text","text":"A","fontSize":16,"fontWeight":"bold","align":"center","baseline":"middle","color":"#000000"},"encoding":{"x":{"datum":-3.14,"type":"quantitative","scale":{"domain":[0,30.6],"nice":false,"zero":false},"axis":null},"y":{"datum":-3.25,"type":"quantitative","scale":{"domain":[-470.75,9.25],"nice":false,"zero":false},"axis":null}}},
  {"data":{"values":[{}]},"mark":{"type":"text","text":"1177 EPSCs for 20 mV sinewave","fontSize":17.5,"fontWeight":"bold","align":"left","baseline":"middle","color":"#ff0000"},"encoding":{"x":{"datum":0.45,"type":"quantitative","scale":{"domain":[0,30.6],"nice":false,"zero":false},"axis":null},"y":{"datum":-10.75,"type":"quantitative","scale":{"domain":[-470.75,9.25],"nice":false,"zero":false},"axis":null}}}
 ]}
]},
{"spacing":0,"hconcat":[
 {"width":1,"height":1,"data":{"values":[]},"mark":"point"},
 {"width":541,"height":192,"resolve":{"scale":{"y":"independent"}},"layer":[
  {"data":{"name":"bS"},"mark":{"type":"line","interpolate":"natural","color":"#6e6e6e","strokeWidth":1.5,"strokeDash":[5,4]},"encoding":{"x":{"field":"t","type":"quantitative","scale":{"domain":[0,30.6],"nice":false,"zero":false},"axis":null},"y":{"field":"v","type":"quantitative","scale":{"domain":[-88.7,2.52],"nice":false,"zero":false},"axis":null}}},
  {"data":{"name":"bG"},"mark":{"type":"line","color":"#00e676","strokeWidth":1.3},"encoding":{"x":{"field":"t","type":"quantitative","scale":{"domain":[0,30.6],"nice":false,"zero":false},"axis":null},"y":{"field":"v","type":"quantitative","scale":{"domain":[-88.7,2.52],"nice":false,"zero":false},"axis":{"orient":"right","values":[0,-20,-40,-60,-80],"title":"Ca²⁺ current (pA)","titleAngle":270,"titleBaseline":"top","titleColor":"#00e676","titleFontSize":14.5,"titlePadding":7,"labelColor":"#00e676","labelPadding":3,"tickColor":"#00e676","tickWidth":1.5,"domainColor":"#00e676","domainWidth":2}}}},
  {"data":{"name":"bE"},"mark":{"type":"line","interpolate":"monotone","color":"#0000ff","strokeWidth":3},"encoding":{"x":{"field":"t","type":"quantitative","scale":{"domain":[0,30.6],"nice":false,"zero":false},"axis":null},"y":{"field":"v","type":"quantitative","scale":{"domain":[-468.4,9.2],"nice":false,"zero":false},"axis":{"orient":"left","values":[0,-100,-200,-300,-400],"title":"EPSC (pA)","titleColor":"#0000ff","titleFontSize":14.5,"titlePadding":9,"labelColor":"#0000ff","labelPadding":1,"tickColor":"#0000ff","tickWidth":1.5,"domainColor":"#0000ff","domainWidth":2}}}},
  {"data":{"values":[{}]},"mark":{"type":"text","text":"B","fontSize":16,"fontWeight":"bold","align":"center","baseline":"middle","color":"#000000"},"encoding":{"x":{"datum":-3.17,"type":"quantitative","scale":{"domain":[0,30.6],"nice":false,"zero":false},"axis":null},"y":{"datum":1.7,"type":"quantitative","scale":{"domain":[-468.4,9.2],"nice":false,"zero":false},"axis":null}}},
  {"data":{"values":[{}]},"mark":{"type":"text","text":"849 EPSCs for 10 mV sinewave","fontSize":17.5,"fontWeight":"bold","align":"left","baseline":"middle","color":"#0000ff"},"encoding":{"x":{"datum":0.45,"type":"quantitative","scale":{"domain":[0,30.6],"nice":false,"zero":false},"axis":null},"y":{"datum":-8.2,"type":"quantitative","scale":{"domain":[-468.4,9.2],"nice":false,"zero":false},"axis":null}}}
 ]}
]},
{"spacing":0,"hconcat":[
 {"width":1,"height":1,"data":{"values":[]},"mark":"point"},
 {"width":541,"height":197,"resolve":{"scale":{"y":"independent"}},"layer":[
  {"data":{"name":"cS"},"mark":{"type":"line","interpolate":"natural","color":"#6e6e6e","strokeWidth":1.5,"strokeDash":[5,4]},"encoding":{"x":{"field":"t","type":"quantitative","scale":{"domain":[0,30.6],"nice":false,"zero":false},"axis":null},"y":{"field":"v","type":"quantitative","scale":{"domain":[-90.8,2.85],"nice":false,"zero":false},"axis":null}}},
  {"data":{"name":"cG"},"mark":{"type":"line","color":"#00e676","strokeWidth":1.3},"encoding":{"x":{"field":"t","type":"quantitative","scale":{"domain":[0,30.6],"nice":false,"zero":false},"axis":null},"y":{"field":"v","type":"quantitative","scale":{"domain":[-90.8,2.85],"nice":false,"zero":false},"axis":{"orient":"right","values":[0,-20,-40,-60,-80],"title":"Ca²⁺ current (pA)","titleAngle":270,"titleBaseline":"top","titleColor":"#00e676","titleFontSize":14.5,"titlePadding":7,"labelColor":"#00e676","labelPadding":3,"tickColor":"#00e676","tickWidth":1.5,"domainColor":"#00e676","domainWidth":2}}}},
  {"data":{"name":"cE"},"mark":{"type":"line","interpolate":"monotone","color":"#000000","strokeWidth":3},"encoding":{"x":{"field":"t","type":"quantitative","scale":{"domain":[0,30.6],"nice":false,"zero":false},"axis":null},"y":{"field":"v","type":"quantitative","scale":{"domain":[-477.4,6.63],"nice":false,"zero":false},"axis":{"orient":"left","values":[0,-100,-200,-300,-400],"title":"EPSC (pA)","titlePadding":9,"labelPadding":1,"tickWidth":1.5,"domainWidth":2}}}},
  {"data":{"values":[{}]},"mark":{"type":"text","text":"C","fontSize":16,"fontWeight":"bold","align":"center","baseline":"middle","color":"#000000"},"encoding":{"x":{"datum":-3.17,"type":"quantitative","scale":{"domain":[0,30.6],"nice":false,"zero":false},"axis":null},"y":{"datum":-0.7,"type":"quantitative","scale":{"domain":[-477.4,6.63],"nice":false,"zero":false},"axis":null}}},
  {"data":{"values":[{}]},"mark":{"type":"text","text":"513 EPSCs for 5 mV sinewave","fontSize":17.5,"fontWeight":"bold","align":"left","baseline":"middle","color":"#000000"},"encoding":{"x":{"datum":0.45,"type":"quantitative","scale":{"domain":[0,30.6],"nice":false,"zero":false},"axis":null},"y":{"datum":-14.7,"type":"quantitative","scale":{"domain":[-477.4,6.63],"nice":false,"zero":false},"axis":null}}},
  {"data":{"values":[{}]},"mark":{"type":"text","text":"400 Hz Sine wave","fontSize":14,"fontWeight":"bold","align":"left","baseline":"middle","color":"#808080"},"encoding":{"x":{"datum":4.3,"type":"quantitative","scale":{"domain":[0,30.6],"nice":false,"zero":false},"axis":null},"y":{"datum":-406,"type":"quantitative","scale":{"domain":[-477.4,6.63],"nice":false,"zero":false},"axis":null}}},
  {"data":{"values":[{}]},"mark":{"type":"rule","color":"#808080","strokeWidth":1.5},"encoding":{"x":{"datum":7.06,"type":"quantitative","scale":{"domain":[0,30.6],"nice":false,"zero":false},"axis":null},"x2":{"datum":5.24},"y":{"datum":-379,"type":"quantitative","scale":{"domain":[-477.4,6.63],"nice":false,"zero":false},"axis":null},"y2":{"datum":-326.5}}},
  {"data":{"values":[{}]},"mark":{"type":"point","shape":"triangle-up","filled":true,"size":60,"angle":303.7,"color":"#808080","opacity":1},"encoding":{"x":{"datum":5.24,"type":"quantitative","scale":{"domain":[0,30.6],"nice":false,"zero":false},"axis":null},"y":{"datum":-326.5,"type":"quantitative","scale":{"domain":[-477.4,6.63],"nice":false,"zero":false},"axis":null}}},
  {"data":{"values":[{}]},"mark":{"type":"rule","color":"#000000","strokeWidth":1.5},"encoding":{"x":{"datum":24.39,"type":"quantitative","scale":{"domain":[0,30.6],"nice":false,"zero":false},"axis":null},"x2":{"datum":29.39},"y":{"datum":-398,"type":"quantitative","scale":{"domain":[-477.4,6.63],"nice":false,"zero":false},"axis":null}}},
  {"data":{"values":[{}]},"mark":{"type":"text","text":"5 ms","fontSize":14,"fontWeight":"bold","align":"center","baseline":"middle","color":"#000000"},"encoding":{"x":{"datum":26.9,"type":"quantitative","scale":{"domain":[0,30.6],"nice":false,"zero":false},"axis":null},"y":{"datum":-428,"type":"quantitative","scale":{"domain":[-477.4,6.63],"nice":false,"zero":false},"axis":null}}}
 ]}
]},
{"spacing":0,"hconcat":[
 {"width":1,"height":1,"data":{"values":[]},"mark":"point"},
 {"spacing":6,"hconcat":[
  {"width":214,"height":212,"layer":[
   {"data":{"values":[{}]},"mark":{"type":"rule","color":"#808080","strokeWidth":1.3,"strokeDash":[5,4]},"encoding":{"x":{"datum":0,"type":"quantitative","scale":{"domain":[-0.069,2.137],"nice":false,"zero":false},"axis":null},"x2":{"datum":2.06},"y":{"datum":0,"type":"quantitative","scale":{"domain":[-70.8,17.5],"nice":false,"zero":false},"axis":null}}},
   {"data":{"name":"dR"},"mark":{"type":"line","interpolate":"monotone","color":"#ff0000","strokeWidth":3},"encoding":{"x":{"field":"t","type":"quantitative","scale":{"domain":[-0.069,2.137],"nice":false,"zero":false},"axis":null},"y":{"field":"v","type":"quantitative","scale":{"domain":[-70.8,17.5],"nice":false,"zero":false},"axis":null}}},
   {"data":{"name":"dB"},"mark":{"type":"line","interpolate":"monotone","color":"#0000ff","strokeWidth":3},"encoding":{"x":{"field":"t","type":"quantitative","scale":{"domain":[-0.069,2.137],"nice":false,"zero":false},"axis":null},"y":{"field":"v","type":"quantitative","scale":{"domain":[-70.8,17.5],"nice":false,"zero":false},"axis":null}}},
   {"data":{"name":"dK"},"mark":{"type":"line","interpolate":"monotone","color":"#000000","strokeWidth":3},"encoding":{"x":{"field":"t","type":"quantitative","scale":{"domain":[-0.069,2.137],"nice":false,"zero":false},"axis":null},"y":{"field":"v","type":"quantitative","scale":{"domain":[-70.8,17.5],"nice":false,"zero":false},"axis":null}}},
   {"data":{"values":[{}]},"mark":{"type":"text","text":"D","fontSize":16,"fontWeight":"bold","align":"center","baseline":"middle","color":"#000000"},"encoding":{"x":{"datum":0.024,"type":"quantitative","scale":{"domain":[-0.069,2.137],"nice":false,"zero":false},"axis":null},"y":{"datum":13.5,"type":"quantitative","scale":{"domain":[-70.8,17.5],"nice":false,"zero":false},"axis":null}}},
   {"data":{"values":[{}]},"mark":{"type":"text","text":"Averaged Calcium Current","fontSize":14,"fontWeight":"bold","align":"center","baseline":"middle","color":"#000000"},"encoding":{"x":{"datum":1.045,"type":"quantitative","scale":{"domain":[-0.069,2.137],"nice":false,"zero":false},"axis":null},"y":{"datum":8.75,"type":"quantitative","scale":{"domain":[-70.8,17.5],"nice":false,"zero":false},"axis":null}}},
   {"data":{"values":[{}]},"mark":{"type":"text","text":"5 mV","fontSize":14,"fontWeight":"bold","align":"center","baseline":"middle","color":"#000000"},"encoding":{"x":{"datum":0.953,"type":"quantitative","scale":{"domain":[-0.069,2.137],"nice":false,"zero":false},"axis":null},"y":{"datum":-19.2,"type":"quantitative","scale":{"domain":[-70.8,17.5],"nice":false,"zero":false},"axis":null}}},
   {"data":{"values":[{}]},"mark":{"type":"text","text":"10 mV","fontSize":14,"fontWeight":"bold","align":"center","baseline":"middle","color":"#0000ff"},"encoding":{"x":{"datum":0.962,"type":"quantitative","scale":{"domain":[-0.069,2.137],"nice":false,"zero":false},"axis":null},"y":{"datum":-40.6,"type":"quantitative","scale":{"domain":[-70.8,17.5],"nice":false,"zero":false},"axis":null}}},
   {"data":{"values":[{}]},"mark":{"type":"text","text":"20 mV","fontSize":14,"fontWeight":"bold","align":"center","baseline":"middle","color":"#ff0000"},"encoding":{"x":{"datum":0.333,"type":"quantitative","scale":{"domain":[-0.069,2.137],"nice":false,"zero":false},"axis":null},"y":{"datum":-59.4,"type":"quantitative","scale":{"domain":[-70.8,17.5],"nice":false,"zero":false},"axis":null}}},
   {"data":{"values":[{}]},"mark":{"type":"rule","color":"#000000","strokeWidth":1.3},"encoding":{"x":{"datum":1.539,"type":"quantitative","scale":{"domain":[-0.069,2.137],"nice":false,"zero":false},"axis":null},"y":{"datum":-52.8,"type":"quantitative","scale":{"domain":[-70.8,17.5],"nice":false,"zero":false},"axis":null},"y2":{"datum":-62.8}}},
   {"data":{"values":[{}]},"mark":{"type":"rule","color":"#000000","strokeWidth":1.3},"encoding":{"x":{"datum":1.539,"type":"quantitative","scale":{"domain":[-0.069,2.137],"nice":false,"zero":false},"axis":null},"x2":{"datum":2.039},"y":{"datum":-62.8,"type":"quantitative","scale":{"domain":[-70.8,17.5],"nice":false,"zero":false},"axis":null}}},
   {"data":{"values":[{}]},"mark":{"type":"text","text":"10 pA","fontSize":14,"fontWeight":"bold","align":"left","baseline":"middle","color":"#000000"},"encoding":{"x":{"datum":1.58,"type":"quantitative","scale":{"domain":[-0.069,2.137],"nice":false,"zero":false},"axis":null},"y":{"datum":-58.3,"type":"quantitative","scale":{"domain":[-70.8,17.5],"nice":false,"zero":false},"axis":null}}},
   {"data":{"values":[{}]},"mark":{"type":"text","text":"500  s","fontSize":14,"fontWeight":"bold","align":"left","baseline":"middle","color":"#000000"},"encoding":{"x":{"datum":1.56,"type":"quantitative","scale":{"domain":[-0.069,2.137],"nice":false,"zero":false},"axis":null},"y":{"datum":-66,"type":"quantitative","scale":{"domain":[-70.8,17.5],"nice":false,"zero":false},"axis":null}}}
  ]},
  {"width":214,"height":212,"layer":[
   {"data":{"name":"eR"},"mark":{"type":"line","interpolate":"monotone","color":"#ff0000","strokeWidth":3},"encoding":{"x":{"field":"t","type":"quantitative","scale":{"domain":[-0.168,2.038],"nice":false,"zero":false},"axis":null},"y":{"field":"v","type":"quantitative","scale":{"domain":[-241.5,35.2],"nice":false,"zero":false},"axis":null}}},
   {"data":{"name":"eB"},"mark":{"type":"line","interpolate":"monotone","color":"#0000ff","strokeWidth":3},"encoding":{"x":{"field":"t","type":"quantitative","scale":{"domain":[-0.168,2.038],"nice":false,"zero":false},"axis":null},"y":{"field":"v","type":"quantitative","scale":{"domain":[-241.5,35.2],"nice":false,"zero":false},"axis":null}}},
   {"data":{"name":"eK"},"mark":{"type":"line","interpolate":"monotone","color":"#000000","strokeWidth":3},"encoding":{"x":{"field":"t","type":"quantitative","scale":{"domain":[-0.168,2.038],"nice":false,"zero":false},"axis":null},"y":{"field":"v","type":"quantitative","scale":{"domain":[-241.5,35.2],"nice":false,"zero":false},"axis":null}}},
   {"data":{"values":[{}]},"mark":{"type":"text","text":"E","fontSize":16,"fontWeight":"bold","align":"center","baseline":"middle","color":"#000000"},"encoding":{"x":{"datum":-0.034,"type":"quantitative","scale":{"domain":[-0.168,2.038],"nice":false,"zero":false},"axis":null},"y":{"datum":22.8,"type":"quantitative","scale":{"domain":[-241.5,35.2],"nice":false,"zero":false},"axis":null}}},
   {"data":{"values":[{}]},"mark":{"type":"text","text":"Averaged EPSCs","fontSize":13.5,"fontWeight":"bold","align":"center","baseline":"middle","color":"#000000"},"encoding":{"x":{"datum":0.956,"type":"quantitative","scale":{"domain":[-0.168,2.038],"nice":false,"zero":false},"axis":null},"y":{"datum":15.4,"type":"quantitative","scale":{"domain":[-241.5,35.2],"nice":false,"zero":false},"axis":null}}},
   {"data":{"values":[{}]},"mark":{"type":"text","text":"without failures","fontSize":13.5,"fontWeight":"bold","align":"center","baseline":"middle","color":"#000000"},"encoding":{"x":{"datum":0.956,"type":"quantitative","scale":{"domain":[-0.168,2.038],"nice":false,"zero":false},"axis":null},"y":{"datum":-3.3,"type":"quantitative","scale":{"domain":[-241.5,35.2],"nice":false,"zero":false},"axis":null}}},
   {"data":{"values":[{}]},"mark":{"type":"text","text":"5 mV","fontSize":14,"fontWeight":"bold","align":"right","baseline":"middle","color":"#000000"},"encoding":{"x":{"datum":1.891,"type":"quantitative","scale":{"domain":[-0.168,2.038],"nice":false,"zero":false},"axis":null},"y":{"datum":-68.5,"type":"quantitative","scale":{"domain":[-241.5,35.2],"nice":false,"zero":false},"axis":null}}},
   {"data":{"values":[{}]},"mark":{"type":"text","text":"10 mV","fontSize":14,"fontWeight":"bold","align":"right","baseline":"middle","color":"#0000ff"},"encoding":{"x":{"datum":1.891,"type":"quantitative","scale":{"domain":[-0.168,2.038],"nice":false,"zero":false},"axis":null},"y":{"datum":-90.7,"type":"quantitative","scale":{"domain":[-241.5,35.2],"nice":false,"zero":false},"axis":null}}},
   {"data":{"values":[{}]},"mark":{"type":"text","text":"20 mV","fontSize":14,"fontWeight":"bold","align":"right","baseline":"middle","color":"#ff0000"},"encoding":{"x":{"datum":1.891,"type":"quantitative","scale":{"domain":[-0.168,2.038],"nice":false,"zero":false},"axis":null},"y":{"datum":-109.7,"type":"quantitative","scale":{"domain":[-241.5,35.2],"nice":false,"zero":false},"axis":null}}},
   {"data":{"values":[{}]},"mark":{"type":"rule","color":"#000000","strokeWidth":1.3},"encoding":{"x":{"datum":1.299,"type":"quantitative","scale":{"domain":[-0.168,2.038],"nice":false,"zero":false},"axis":null},"y":{"datum":-156.7,"type":"quantitative","scale":{"domain":[-241.5,35.2],"nice":false,"zero":false},"axis":null},"y2":{"datum":-206.7}}},
   {"data":{"values":[{}]},"mark":{"type":"rule","color":"#000000","strokeWidth":1.3},"encoding":{"x":{"datum":1.299,"type":"quantitative","scale":{"domain":[-0.168,2.038],"nice":false,"zero":false},"axis":null},"x2":{"datum":1.799},"y":{"datum":-206.7,"type":"quantitative","scale":{"domain":[-241.5,35.2],"nice":false,"zero":false},"axis":null}}},
   {"data":{"values":[{}]},"mark":{"type":"text","text":"50 pA","fontSize":14,"fontWeight":"bold","align":"left","baseline":"middle","color":"#000000"},"encoding":{"x":{"datum":1.337,"type":"quantitative","scale":{"domain":[-0.168,2.038],"nice":false,"zero":false},"axis":null},"y":{"datum":-184.1,"type":"quantitative","scale":{"domain":[-241.5,35.2],"nice":false,"zero":false},"axis":null}}},
   {"data":{"values":[{}]},"mark":{"type":"text","text":"500  s","fontSize":14,"fontWeight":"bold","align":"left","baseline":"middle","color":"#000000"},"encoding":{"x":{"datum":1.324,"type":"quantitative","scale":{"domain":[-0.168,2.038],"nice":false,"zero":false},"axis":null},"y":{"datum":-218.7,"type":"quantitative","scale":{"domain":[-241.5,35.2],"nice":false,"zero":false},"axis":null}}}
  ]},
  {"width":216,"height":212,"layer":[
   {"data":{"name":"fR"},"mark":{"type":"line","interpolate":"monotone","color":"#ff0000","strokeWidth":3},"encoding":{"x":{"field":"t","type":"quantitative","scale":{"domain":[-0.199,2.028],"nice":false,"zero":false},"axis":null},"y":{"field":"v","type":"quantitative","scale":{"domain":[-145.3,19.7],"nice":false,"zero":false},"axis":null}}},
   {"data":{"name":"fB"},"mark":{"type":"line","interpolate":"monotone","color":"#0000ff","strokeWidth":3},"encoding":{"x":{"field":"t","type":"quantitative","scale":{"domain":[-0.199,2.028],"nice":false,"zero":false},"axis":null},"y":{"field":"v","type":"quantitative","scale":{"domain":[-145.3,19.7],"nice":false,"zero":false},"axis":null}}},
   {"data":{"name":"fK"},"mark":{"type":"line","interpolate":"monotone","color":"#000000","strokeWidth":3},"encoding":{"x":{"field":"t","type":"quantitative","scale":{"domain":[-0.199,2.028],"nice":false,"zero":false},"axis":null},"y":{"field":"v","type":"quantitative","scale":{"domain":[-145.3,19.7],"nice":false,"zero":false},"axis":null}}},
   {"data":{"values":[{}]},"mark":{"type":"text","text":"F","fontSize":16,"fontWeight":"bold","align":"center","baseline":"middle","color":"#000000"},"encoding":{"x":{"datum":-0.034,"type":"quantitative","scale":{"domain":[-0.199,2.028],"nice":false,"zero":false},"axis":null},"y":{"datum":12.3,"type":"quantitative","scale":{"domain":[-145.3,19.7],"nice":false,"zero":false},"axis":null}}},
   {"data":{"values":[{}]},"mark":{"type":"text","text":"Averaged EPSCs","fontSize":13.5,"fontWeight":"bold","align":"center","baseline":"middle","color":"#000000"},"encoding":{"x":{"datum":0.966,"type":"quantitative","scale":{"domain":[-0.199,2.028],"nice":false,"zero":false},"axis":null},"y":{"datum":10.2,"type":"quantitative","scale":{"domain":[-145.3,19.7],"nice":false,"zero":false},"axis":null}}},
   {"data":{"values":[{}]},"mark":{"type":"text","text":"with failures","fontSize":13.5,"fontWeight":"bold","align":"center","baseline":"middle","color":"#000000"},"encoding":{"x":{"datum":0.966,"type":"quantitative","scale":{"domain":[-0.199,2.028],"nice":false,"zero":false},"axis":null},"y":{"datum":-1.3,"type":"quantitative","scale":{"domain":[-145.3,19.7],"nice":false,"zero":false},"axis":null}}},
   {"data":{"values":[{}]},"mark":{"type":"text","text":"5 mV","fontSize":14,"fontWeight":"bold","align":"right","baseline":"middle","color":"#000000"},"encoding":{"x":{"datum":1.907,"type":"quantitative","scale":{"domain":[-0.199,2.028],"nice":false,"zero":false},"axis":null},"y":{"datum":-42.6,"type":"quantitative","scale":{"domain":[-145.3,19.7],"nice":false,"zero":false},"axis":null}}},
   {"data":{"values":[{}]},"mark":{"type":"text","text":"10 mV","fontSize":14,"fontWeight":"bold","align":"right","baseline":"middle","color":"#0000ff"},"encoding":{"x":{"datum":1.907,"type":"quantitative","scale":{"domain":[-0.199,2.028],"nice":false,"zero":false},"axis":null},"y":{"datum":-55,"type":"quantitative","scale":{"domain":[-145.3,19.7],"nice":false,"zero":false},"axis":null}}},
   {"data":{"values":[{}]},"mark":{"type":"text","text":"20 mV","fontSize":14,"fontWeight":"bold","align":"right","baseline":"middle","color":"#ff0000"},"encoding":{"x":{"datum":1.907,"type":"quantitative","scale":{"domain":[-0.199,2.028],"nice":false,"zero":false},"axis":null},"y":{"datum":-66.7,"type":"quantitative","scale":{"domain":[-145.3,19.7],"nice":false,"zero":false},"axis":null}}},
   {"data":{"values":[{}]},"mark":{"type":"rule","color":"#000000","strokeWidth":1.3},"encoding":{"x":{"datum":1.247,"type":"quantitative","scale":{"domain":[-0.199,2.028],"nice":false,"zero":false},"axis":null},"y":{"datum":-100.7,"type":"quantitative","scale":{"domain":[-145.3,19.7],"nice":false,"zero":false},"axis":null},"y2":{"datum":-120.6}}},
   {"data":{"values":[{}]},"mark":{"type":"rule","color":"#000000","strokeWidth":1.3},"encoding":{"x":{"datum":1.247,"type":"quantitative","scale":{"domain":[-0.199,2.028],"nice":false,"zero":false},"axis":null},"x2":{"datum":1.747},"y":{"datum":-120.6,"type":"quantitative","scale":{"domain":[-145.3,19.7],"nice":false,"zero":false},"axis":null}}},
   {"data":{"values":[{}]},"mark":{"type":"text","text":"20 pA","fontSize":14,"fontWeight":"bold","align":"left","baseline":"middle","color":"#000000"},"encoding":{"x":{"datum":1.286,"type":"quantitative","scale":{"domain":[-0.199,2.028],"nice":false,"zero":false},"axis":null},"y":{"datum":-110.3,"type":"quantitative","scale":{"domain":[-145.3,19.7],"nice":false,"zero":false},"axis":null}}},
   {"data":{"values":[{}]},"mark":{"type":"text","text":"500  s","fontSize":14,"fontWeight":"bold","align":"left","baseline":"middle","color":"#000000"},"encoding":{"x":{"datum":1.272,"type":"quantitative","scale":{"domain":[-0.199,2.028],"nice":false,"zero":false},"axis":null},"y":{"datum":-127.8,"type":"quantitative","scale":{"domain":[-145.3,19.7],"nice":false,"zero":false},"axis":null}}}
  ]}
 ]}
]},
{"spacing":0,"hconcat":[
 {"width":1,"height":1,"data":{"values":[]},"mark":"point"},
 {"spacing":28,"hconcat":[
  {"width":273.3,"height":163.7,"layer":[
   {"data":{"name":"gR"},"mark":{"type":"bar","width":5,"color":"#ff0000","orient":"vertical"},"encoding":{"x":{"field":"deg","type":"quantitative","scale":{"domain":[76,515],"nice":false,"zero":false},"axis":{"values":[100,200,300,400,500],"title":"phase (degree)","labelPadding":3,"titlePadding":1}},"y":{"field":"n","type":"quantitative","scale":{"domain":[0,100],"nice":false,"zero":false},"axis":{"values":[0,20,40,60,80],"title":"Number of events","labelPadding":1,"titlePadding":3}}}},
   {"data":{"name":"gB"},"mark":{"type":"bar","width":5,"color":"#0000ff","orient":"vertical"},"encoding":{"x":{"field":"deg","type":"quantitative","scale":{"domain":[76,515],"nice":false,"zero":false}},"y":{"field":"n","type":"quantitative","scale":{"domain":[0,100],"nice":false,"zero":false}}}},
   {"data":{"name":"gK"},"mark":{"type":"bar","width":5,"color":"#000000","orient":"vertical"},"encoding":{"x":{"field":"deg","type":"quantitative","scale":{"domain":[76,515],"nice":false,"zero":false}},"y":{"field":"n","type":"quantitative","scale":{"domain":[0,100],"nice":false,"zero":false}}}},
   {"data":{"name":"gG"},"mark":{"type":"bar","width":5,"color":"#808080","orient":"vertical"},"encoding":{"x":{"field":"deg","type":"quantitative","scale":{"domain":[76,515],"nice":false,"zero":false}},"y":{"field":"n","type":"quantitative","scale":{"domain":[0,100],"nice":false,"zero":false}}}},
   {"data":{"values":[{}]},"mark":{"type":"text","text":"G","fontSize":16,"fontWeight":"bold","align":"center","baseline":"middle","color":"#000000"},"encoding":{"x":{"datum":26.4,"type":"quantitative","scale":{"domain":[76,515],"nice":false,"zero":false}},"y":{"datum":100.3,"type":"quantitative","scale":{"domain":[0,100],"nice":false,"zero":false}}}},
   {"data":{"values":[{}]},"mark":{"type":"text","text":"I","fontSize":18,"align":"left","baseline":"middle","color":"#888888"},"encoding":{"x":{"datum":108,"type":"quantitative","scale":{"domain":[76,515],"nice":false,"zero":false}},"y":{"datum":89.6,"type":"quantitative","scale":{"domain":[0,100],"nice":false,"zero":false}}}},
   {"data":{"values":[{}]},"mark":{"type":"text","text":"Ca","fontSize":12,"align":"left","baseline":"middle","color":"#888888"},"encoding":{"x":{"datum":117.7,"type":"quantitative","scale":{"domain":[76,515],"nice":false,"zero":false}},"y":{"datum":87.5,"type":"quantitative","scale":{"domain":[0,100],"nice":false,"zero":false}}}},
   {"data":{"values":[{}]},"mark":{"type":"text","text":"2+","fontSize":9,"align":"left","baseline":"middle","color":"#888888"},"encoding":{"x":{"datum":143.4,"type":"quantitative","scale":{"domain":[76,515],"nice":false,"zero":false}},"y":{"datum":96.4,"type":"quantitative","scale":{"domain":[0,100],"nice":false,"zero":false}}}},
   {"data":{"values":[{}]},"mark":{"type":"text","text":"evoked EPSC","fontSize":14,"fontWeight":"bold","align":"right","baseline":"middle","color":"#000000"},"encoding":{"x":{"datum":512.4,"type":"quantitative","scale":{"domain":[76,515],"nice":false,"zero":false}},"y":{"datum":78.5,"type":"quantitative","scale":{"domain":[0,100],"nice":false,"zero":false}}}},
   {"data":{"values":[{}]},"mark":{"type":"text","text":"vector strength","fontSize":14,"fontWeight":"bold","align":"right","baseline":"middle","color":"#000000"},"encoding":{"x":{"datum":512.4,"type":"quantitative","scale":{"domain":[76,515],"nice":false,"zero":false}},"y":{"datum":68.3,"type":"quantitative","scale":{"domain":[0,100],"nice":false,"zero":false}}}},
   {"data":{"values":[{}]},"mark":{"type":"text","text":"5 mV: 0.31","fontSize":14,"fontWeight":"bold","align":"right","baseline":"middle","color":"#000000"},"encoding":{"x":{"datum":512.4,"type":"quantitative","scale":{"domain":[76,515],"nice":false,"zero":false}},"y":{"datum":53,"type":"quantitative","scale":{"domain":[0,100],"nice":false,"zero":false}}}},
   {"data":{"values":[{}]},"mark":{"type":"text","text":"10 mV: 0.51","fontSize":14,"fontWeight":"bold","align":"right","baseline":"middle","color":"#0000ff"},"encoding":{"x":{"datum":512.4,"type":"quantitative","scale":{"domain":[76,515],"nice":false,"zero":false}},"y":{"datum":42.3,"type":"quantitative","scale":{"domain":[0,100],"nice":false,"zero":false}}}},
   {"data":{"values":[{}]},"mark":{"type":"text","text":"20 mV: 0.58","fontSize":14,"fontWeight":"bold","align":"right","baseline":"middle","color":"#ff0000"},"encoding":{"x":{"datum":512.4,"type":"quantitative","scale":{"domain":[76,515],"nice":false,"zero":false}},"y":{"datum":31.6,"type":"quantitative","scale":{"domain":[0,100],"nice":false,"zero":false}}}}
  ]},
  {"width":272.3,"height":163.7,"layer":[
   {"data":{"name":"hR"},"mark":{"type":"bar","color":"#ff0000","stroke":"#ff0000","strokeWidth":0.3},"encoding":{"x":{"field":"lo","type":"quantitative","scale":{"domain":[-16.3,591.5],"nice":false,"zero":false},"axis":{"values":[0,100,200,300,400,500],"title":"EPSC amplitude (pA)","labelPadding":3,"titlePadding":1}},"x2":{"field":"hi"},"y":{"field":"n","type":"quantitative","scale":{"domain":[0,19.24],"nice":false,"zero":false},"axis":{"values":[0,5,10,15],"title":"Number of events","labelPadding":1,"titlePadding":3}},"y2":{"datum":0}}},
   {"data":{"name":"hB"},"mark":{"type":"bar","color":"#0000ff","stroke":"#0000ff","strokeWidth":0.3},"encoding":{"x":{"field":"lo","type":"quantitative","scale":{"domain":[-16.3,591.5],"nice":false,"zero":false}},"x2":{"field":"hi"},"y":{"field":"n","type":"quantitative","scale":{"domain":[0,19.24],"nice":false,"zero":false}},"y2":{"datum":0}}},
   {"data":{"name":"hK"},"mark":{"type":"bar","color":"#000000","stroke":"#000000","strokeWidth":0.3},"encoding":{"x":{"field":"lo","type":"quantitative","scale":{"domain":[-16.3,591.5],"nice":false,"zero":false}},"x2":{"field":"hi"},"y":{"field":"n","type":"quantitative","scale":{"domain":[0,19.24],"nice":false,"zero":false}},"y2":{"datum":0}}},
   {"data":{"values":[{}]},"mark":{"type":"text","text":"H","fontSize":16,"fontWeight":"bold","align":"center","baseline":"middle","color":"#000000"},"encoding":{"x":{"datum":-87.1,"type":"quantitative","scale":{"domain":[-16.3,591.5],"nice":false,"zero":false}},"y":{"datum":19.3,"type":"quantitative","scale":{"domain":[0,19.24],"nice":false,"zero":false}}}},
   {"data":{"values":[{}]},"mark":{"type":"text","text":"mean amplitude","fontSize":14,"fontWeight":"bold","align":"right","baseline":"middle","color":"#000000"},"encoding":{"x":{"datum":573,"type":"quantitative","scale":{"domain":[-16.3,591.5],"nice":false,"zero":false}},"y":{"datum":17.25,"type":"quantitative","scale":{"domain":[0,19.24],"nice":false,"zero":false}}}},
   {"data":{"values":[{}]},"mark":{"type":"text","text":"5 mV: 190 pA","fontSize":14,"fontWeight":"bold","align":"right","baseline":"middle","color":"#000000"},"encoding":{"x":{"datum":573,"type":"quantitative","scale":{"domain":[-16.3,591.5],"nice":false,"zero":false}},"y":{"datum":14.14,"type":"quantitative","scale":{"domain":[0,19.24],"nice":false,"zero":false}}}},
   {"data":{"values":[{}]},"mark":{"type":"text","text":"10 mV: 218 pA","fontSize":14,"fontWeight":"bold","align":"right","baseline":"middle","color":"#0000ff"},"encoding":{"x":{"datum":573,"type":"quantitative","scale":{"domain":[-16.3,591.5],"nice":false,"zero":false}},"y":{"datum":12.06,"type":"quantitative","scale":{"domain":[0,19.24],"nice":false,"zero":false}}}},
   {"data":{"values":[{}]},"mark":{"type":"text","text":"20 mV: 235 pA","fontSize":14,"fontWeight":"bold","align":"right","baseline":"middle","color":"#ff0000"},"encoding":{"x":{"datum":573,"type":"quantitative","scale":{"domain":[-16.3,591.5],"nice":false,"zero":false}},"y":{"datum":9.91,"type":"quantitative","scale":{"domain":[0,19.24],"nice":false,"zero":false}}}}
  ]}
 ]}
]}
]
}
